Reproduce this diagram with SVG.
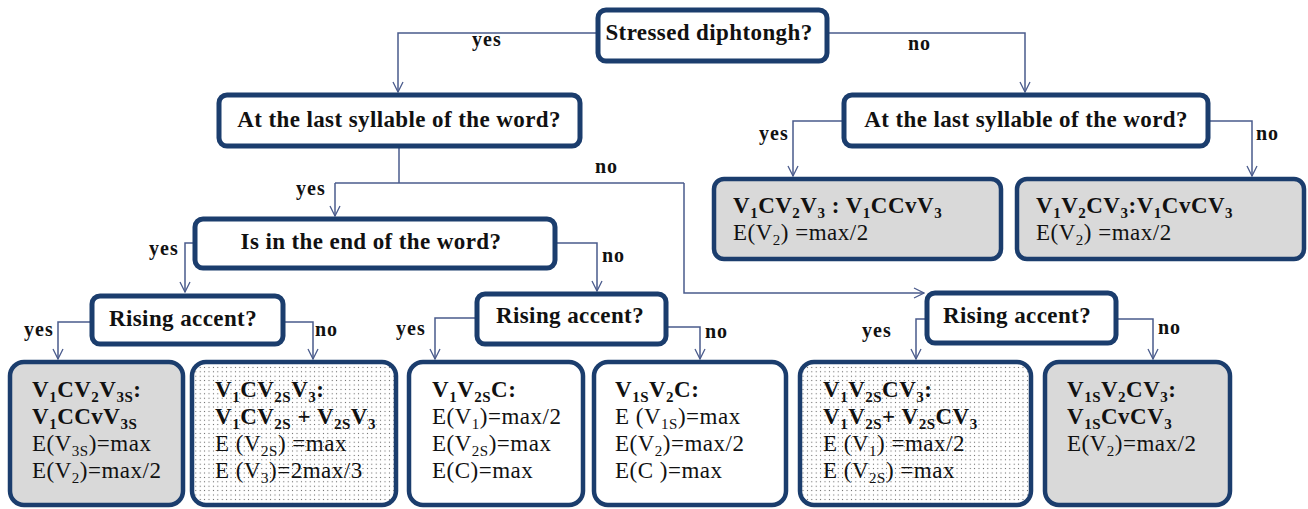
<svg xmlns="http://www.w3.org/2000/svg" width="1308" height="509" viewBox="0 0 1308 509" font-family="Liberation Serif, Times New Roman, DejaVu Serif, serif">
<defs>
<style>
.q{fill:#fff;stroke:#1b3d6d;stroke-width:5}
.lf{stroke:#1b3d6d;stroke-width:4.5}
.g{fill:#d9d9d9}
.w{fill:#fff}
.d{fill:url(#dots)}
.ht{font-weight:bold;font-size:23px;letter-spacing:0.4px;fill:#111;text-anchor:middle}
.lb{font-weight:bold;font-size:20px;letter-spacing:1px;fill:#111}
.tx{font-size:23px;letter-spacing:0.5px;fill:#111}
.b{font-weight:bold}
.s{font-size:15px;baseline-shift:-5px}
.c{fill:none;stroke:#4a5b8c;stroke-width:1.5;marker-end:url(#ah)}
.c0{fill:none;stroke:#4a5b8c;stroke-width:1.5}
</style>
<pattern id="dots" width="4.4" height="4.4" patternUnits="userSpaceOnUse">
<rect width="4.4" height="4.4" fill="#fff"/>
<rect x="1.7" y="1.7" width="1" height="1" fill="#555"/>
</pattern>
<marker id="ah" viewBox="0 0 12 12" refX="11" refY="6" markerWidth="12" markerHeight="12" markerUnits="userSpaceOnUse" orient="auto">
<path d="M1,1 L11,6 L1,11" fill="none" stroke="#4a5b8c" stroke-width="1.3"/>
</marker>
</defs>

<g id="connectors">
<path class="c" d="M596,33 H398 V92"/>
<path class="c" d="M829,33 H1025 V92"/>
<path class="c0" d="M399,148 V183"/>
<path class="c0" d="M335,183 H684"/>
<path class="c" d="M335,183 V216"/>
<path class="c" d="M684,183 V293 H924"/>
<path class="c" d="M842,121 H793 V176"/>
<path class="c" d="M1210,121 H1252 V176"/>
<path class="c" d="M193,243 H185 V292"/>
<path class="c" d="M557,243 H597 V291"/>
<path class="c" d="M90,322 H58 V359"/>
<path class="c" d="M285,322 H313 V359"/>
<path class="c" d="M475,318 H435 V359"/>
<path class="c" d="M668,327 H700 V359"/>
<path class="c" d="M925,319 H916 V359"/>
<path class="c" d="M1118,319 H1153 V359"/>
<text class="lb" x="472" y="46">yes</text>
<text class="lb" x="908" y="50">no</text>
<text class="lb" x="595" y="173">no</text>
<text class="lb" x="296" y="195">yes</text>
<text class="lb" x="759" y="140">yes</text>
<text class="lb" x="1256" y="140">no</text>
<text class="lb" x="149" y="255">yes</text>
<text class="lb" x="602" y="262">no</text>
<text class="lb" x="24" y="336">yes</text>
<text class="lb" x="315" y="336">no</text>
<text class="lb" x="396" y="335">yes</text>
<text class="lb" x="705" y="338">no</text>
<text class="lb" x="862" y="337">yes</text>
<text class="lb" x="1158" y="334">no</text>
</g>

<g id="n-stressed">
<rect class="q" x="598" y="10" width="229" height="51" rx="8"/>
<text class="ht" x="709" y="40">Stressed diphtongh?</text>
</g>
<g id="n-last-left">
<rect class="q" x="219" y="95" width="361" height="51" rx="8"/>
<text class="ht" x="399" y="127">At the last syllable of the word?</text>
</g>
<g id="n-last-right">
<rect class="q" x="844" y="95" width="364" height="51" rx="8"/>
<text class="ht" x="1026" y="127">At the last syllable of the word?</text>
</g>
<g id="n-end">
<rect class="q" x="195" y="219" width="360" height="49" rx="8"/>
<text class="ht" x="371" y="249">Is in the end of the word?</text>
</g>
<g id="n-rise-left">
<rect class="q" x="92" y="296" width="191" height="48" rx="8"/>
<text class="ht" x="183" y="326">Rising accent?</text>
</g>
<g id="n-rise-mid">
<rect class="q" x="477" y="294" width="189" height="50" rx="8"/>
<text class="ht" x="570" y="323">Rising accent?</text>
</g>
<g id="n-rise-right">
<rect class="q" x="927" y="293" width="189" height="50" rx="8"/>
<text class="ht" x="1017" y="323">Rising accent?</text>
</g>

<g id="leaf-r1">
<rect class="lf g" x="714" y="179" width="287" height="80" rx="10"/>
<text class="tx" x="733" y="213"><tspan class="b">V<tspan class="s">1</tspan>CV<tspan class="s">2</tspan>V<tspan class="s">3</tspan> : V<tspan class="s">1</tspan>CCvV<tspan class="s">3</tspan></tspan></text>
<text class="tx" x="733" y="240">E(V<tspan class="s">2</tspan>) =max/2</text>
</g>
<g id="leaf-r2">
<rect class="lf g" x="1017" y="179" width="287" height="80" rx="10"/>
<text class="tx" x="1036" y="213"><tspan class="b">V<tspan class="s">1</tspan>V<tspan class="s">2</tspan>CV<tspan class="s">3</tspan>:V<tspan class="s">1</tspan>CvCV<tspan class="s">3</tspan></tspan></text>
<text class="tx" x="1036" y="240">E(V<tspan class="s">2</tspan>) =max/2</text>
</g>

<g id="leaf-1">
<rect class="lf g" x="10" y="362" width="173" height="143" rx="14"/>
<text class="tx b" x="32" y="397">V<tspan class="s">1</tspan>CV<tspan class="s">2</tspan>V<tspan class="s">3S</tspan>:</text>
<text class="tx b" x="32" y="424">V<tspan class="s">1</tspan>CCvV<tspan class="s">3S</tspan></text>
<text class="tx" x="32" y="451">E(V<tspan class="s">3S</tspan>)=max</text>
<text class="tx" x="32" y="478">E(V<tspan class="s">2</tspan>)=max/2</text>
</g>
<g id="leaf-2">
<rect class="lf d" x="192" y="362" width="204" height="143" rx="14"/>
<text class="tx b" x="215" y="397">V<tspan class="s">1</tspan>CV<tspan class="s">2S</tspan>V<tspan class="s">3</tspan>:</text>
<text class="tx b" x="215" y="424">V<tspan class="s">1</tspan>CV<tspan class="s">2S</tspan> + V<tspan class="s">2S</tspan>V<tspan class="s">3</tspan></text>
<text class="tx" x="215" y="451">E (V<tspan class="s">2S</tspan>) =max</text>
<text class="tx" x="215" y="478">E (V<tspan class="s">3</tspan>)=2max/3</text>
</g>
<g id="leaf-3">
<rect class="lf w" x="409" y="362" width="174" height="143" rx="14"/>
<text class="tx b" x="432" y="397">V<tspan class="s">1</tspan>V<tspan class="s">2S</tspan>C:</text>
<text class="tx" x="432" y="424">E(V<tspan class="s">1</tspan>)=max/2</text>
<text class="tx" x="432" y="451">E(V<tspan class="s">2S</tspan>)=max</text>
<text class="tx" x="432" y="478">E(C)=max</text>
</g>
<g id="leaf-4">
<rect class="lf w" x="594" y="362" width="192" height="143" rx="14"/>
<text class="tx b" x="615" y="397">V<tspan class="s">1S</tspan>V<tspan class="s">2</tspan>C:</text>
<text class="tx" x="615" y="424">E (V<tspan class="s">1S</tspan>)=max</text>
<text class="tx" x="615" y="451">E(V<tspan class="s">2</tspan>)=max/2</text>
<text class="tx" x="615" y="478">E(C )=max</text>
</g>
<g id="leaf-5">
<rect class="lf d" x="800" y="362" width="231" height="143" rx="14"/>
<text class="tx b" x="823" y="397">V<tspan class="s">1</tspan>V<tspan class="s">2S</tspan>CV<tspan class="s">3</tspan>:</text>
<text class="tx b" x="823" y="424">V<tspan class="s">1</tspan>V<tspan class="s">2S</tspan>+ V<tspan class="s">2S</tspan>CV<tspan class="s">3</tspan></text>
<text class="tx" x="823" y="451">E (V<tspan class="s">1</tspan>) =max/2</text>
<text class="tx" x="823" y="478">E (V<tspan class="s">2S</tspan>) =max</text>
</g>
<g id="leaf-6">
<rect class="lf g" x="1045" y="362" width="185" height="143" rx="14"/>
<text class="tx b" x="1067" y="397">V<tspan class="s">1S</tspan>V<tspan class="s">2</tspan>CV<tspan class="s">3</tspan>:</text>
<text class="tx b" x="1067" y="424">V<tspan class="s">1S</tspan>CvCV<tspan class="s">3</tspan></text>
<text class="tx" x="1067" y="451">E(V<tspan class="s">2</tspan>)=max/2</text>
</g>
</svg>
